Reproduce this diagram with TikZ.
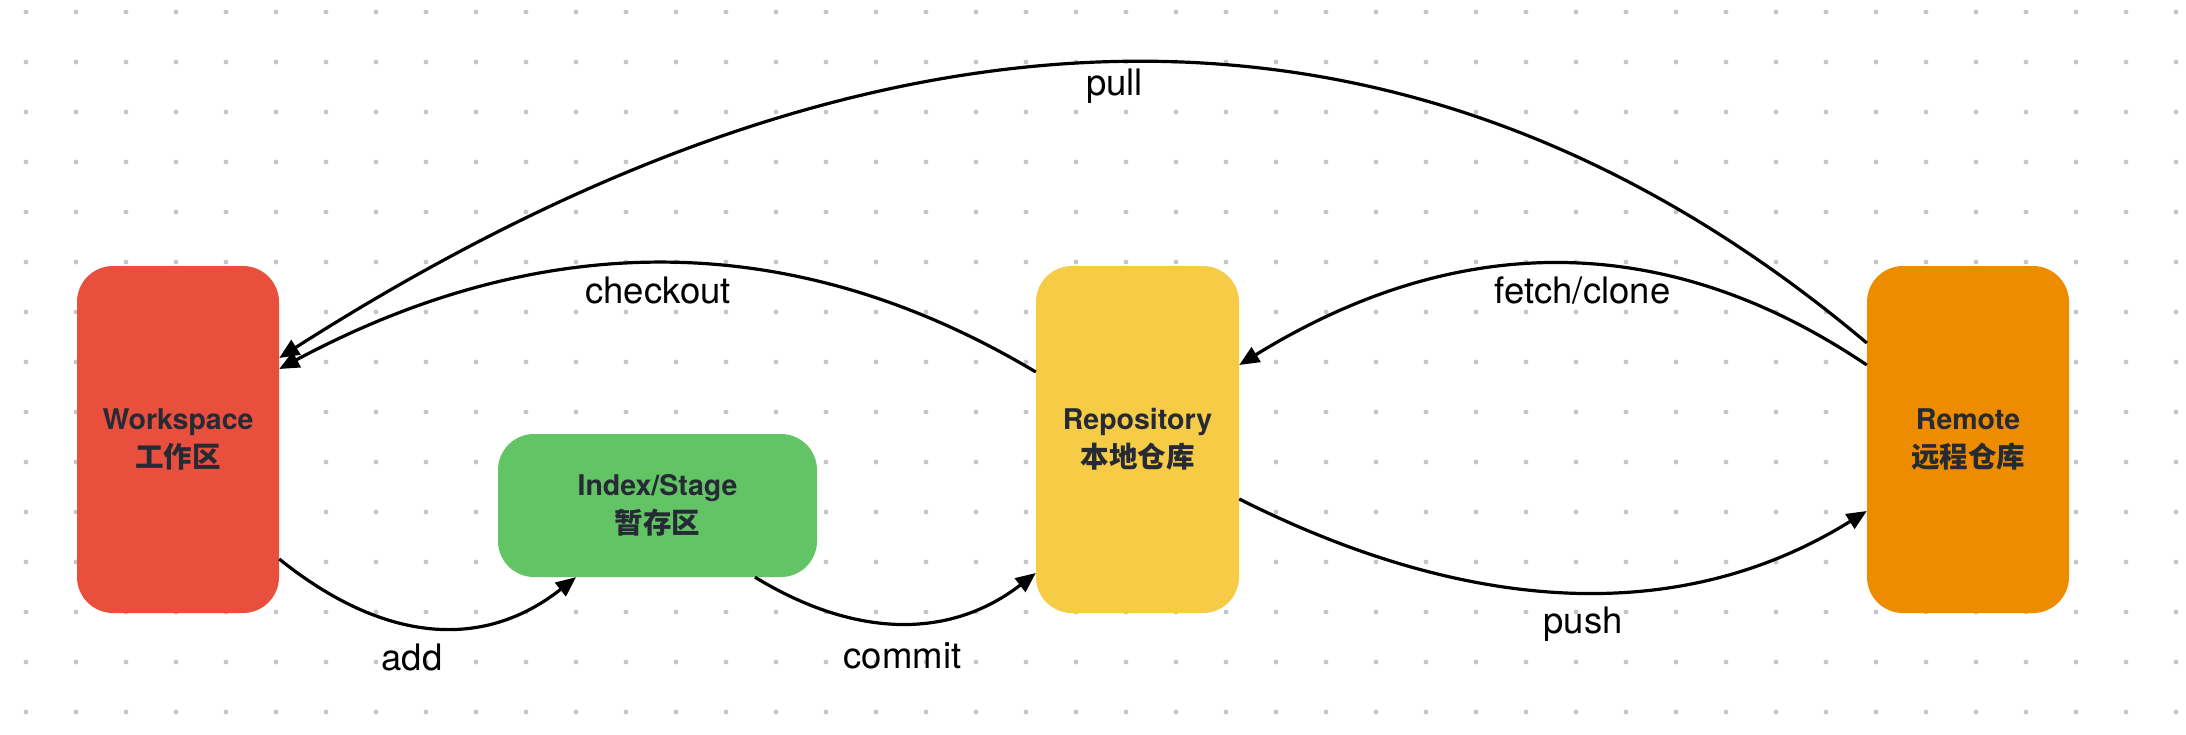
\documentclass[tikz,border=0pt]{standalone}
\usepackage{fontspec}
\setmainfont{TeX Gyre Heros}
\newfontfamily\cjk{Noto Sans CJK SC}
\usetikzlibrary{arrows.meta}
\definecolor{wsred}{HTML}{E94F3D}
\definecolor{stgreen}{HTML}{63C466}
\definecolor{repoyellow}{HTML}{F6CB46}
\definecolor{remorange}{HTML}{EE8C00}
\definecolor{txtdark}{HTML}{252A35}
\definecolor{dotgray}{HTML}{C6C6C6}
\tikzset{
  area/.style={rounded corners=36pt, inner sep=0pt, align=center,
    text=txtdark, font=\fontsize{28.5}{38}\selectfont\bfseries},
  flow/.style={line width=3.2pt, -{Triangle[length=20pt,width=17pt]}},
  elabel/.style={anchor=base, font=\fontsize{36.5}{40}\selectfont, text=black}
}
\begin{document}
\begin{tikzpicture}[x=1pt,y=-1pt]
\useasboundingbox (0,0) rectangle (2186,734);
\fill[white] (0,0) rectangle (2186,734);
\foreach \i in {0,...,43}{
  \foreach \j in {0,...,14}{
    \fill[dotgray] (26+50*\i,12+50*\j) circle (2.4);
  }
}
\node[area, fill=wsred, minimum width=202pt, minimum height=347pt] (ws) at (178,439.5) {Workspace\\{\cjk 工作区}};
\node[area, fill=stgreen, minimum width=319pt, minimum height=143pt] (idx) at (657.5,505.5) {Index/Stage\\{\cjk 暂存区}};
\node[area, fill=repoyellow, minimum width=203pt, minimum height=347pt] (repo) at (1137.5,439.5) {Repository\\{\cjk 本地仓库}};
\node[area, fill=remorange, minimum width=202pt, minimum height=347pt] (rem) at (1968,439.5) {Remote\\{\cjk 远程仓库}};

% add
\draw[flow] ([yshift=-119.5pt]ws.east) .. controls (385,644) and (484,650) .. ([xshift=-81.5pt]idx.south);
% commit
\draw[flow] ([xshift=97.5pt]idx.south) .. controls (858,640) and (952,638) .. ([yshift=-133.5pt]repo.west);
% push
\draw[flow] ([yshift=-59.5pt]repo.east) .. controls (1478,619) and (1687,623) .. ([yshift=-71.5pt]rem.west);
% checkout
\draw[flow] ([yshift=67.5pt]repo.west) .. controls (795,228) and (545,227) .. ([yshift=70.5pt]ws.east);
% fetch/clone
\draw[flow] ([yshift=74.5pt]rem.west) .. controls (1667,230) and (1458,230) .. ([yshift=74.5pt]repo.east);
% pull
\draw[flow] ([yshift=96.5pt]rem.west) .. controls (1417,-36) and (889,-31) .. ([yshift=81.5pt]ws.east);

\node[elabel] (lpull) at (1114.5,95) {pull};
\node[elabel] (lcheckout) at (658,303) {checkout};
\node[elabel] (lfetch) at (1582.5,303) {fetch/clone};
\node[elabel] (ladd) at (412,670) {add};
\node[elabel] (lcommit) at (902.5,668) {commit};
\node[elabel] (lpush) at (1583,633) {push};
\end{tikzpicture}
\end{document}
